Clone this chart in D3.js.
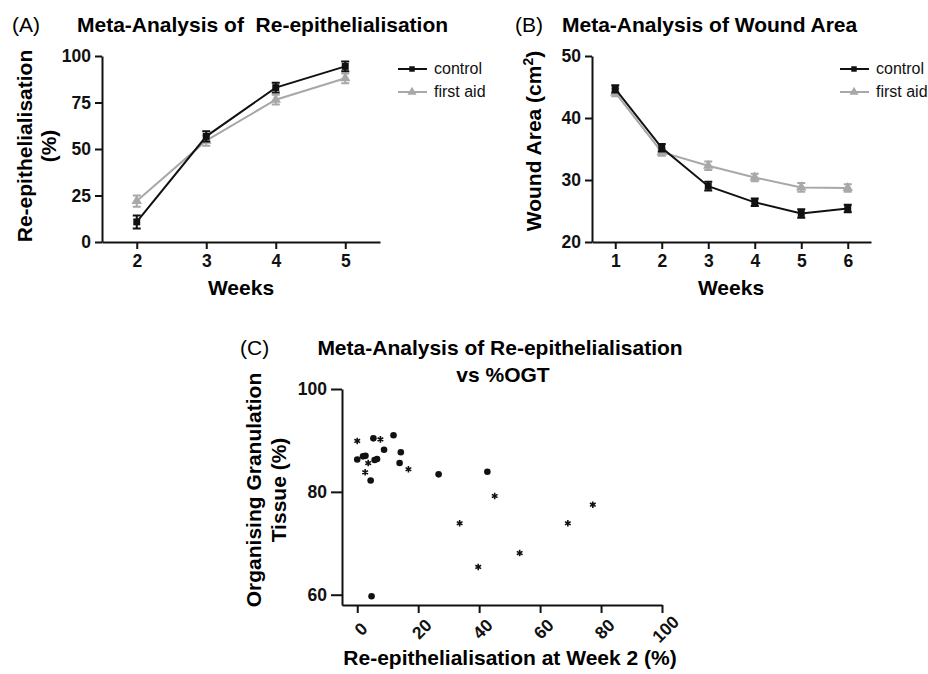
<!DOCTYPE html>
<html>
<head>
<meta charset="utf-8">
<script src="https://cdn.jsdelivr.net/npm/d3@7"></script>
<style>
body { margin: 0; background: #fff; }
text { font-family: "Liberation Sans", Arial, sans-serif; }
</style>
</head>
<body>
<svg width="928" height="674"></svg>
<script>
// panel A data
var weeksA = [2, 3, 4, 5];
var reepControl = [10.8, 56.8, 83.0, 94.4];
var reepControlErr = [3.5, 2.8, 2.6, 2.6];
var reepFirstAid = [22.0, 54.5, 76.5, 88.0];
var reepFirstAidErr = [3.0, 2.8, 2.6, 2.6];
var ticksA = [0, 25, 50, 75, 100];

// panel B data
var weeksB = [1, 2, 3, 4, 5, 6];
var woundControl = [44.7, 35.2, 29.0, 26.4, 24.6, 25.4];
var woundControlErr = [0.6, 0.6, 0.7, 0.6, 0.7, 0.6];
var woundFirstAid = [44.1, 34.5, 32.3, 30.4, 28.8, 28.7];
var woundFirstAidErr = [0.6, 0.6, 0.7, 0.6, 0.7, 0.6];
var ticksB = [20, 30, 40, 50];

// panel C data
var dotX = [0, 1.9, 2.7, 5.3, 5.7, 6.5, 4.4, 8.8, 11.9, 14.3, 13.9, 26.7, 42.7, 4.7];
var dotY = [86.3, 86.9, 87.0, 90.4, 86.2, 86.4, 82.2, 88.2, 91.0, 87.7, 85.6, 83.4, 83.9, 59.7];
var starX = [0, 7.6, 3.6, 2.6, 16.8, 45.1, 33.6, 77.3, 69.1, 53.3, 39.7];
var starY = [89.9, 90.2, 85.6, 83.8, 84.4, 79.2, 73.9, 77.5, 73.9, 68.1, 65.4];
var ticksCx = [0, 20, 40, 60, 80, 100];
var ticksCy = [60, 80, 100];

var grey = '#a8a8a8';
var svg = d3.select('svg');

function styleAxis(g) {
    g.selectAll('path, line').attr('stroke', '#111').attr('stroke-width', 2);
    g.selectAll('text').attr('font-size', 17.5).attr('font-weight', 'bold').attr('fill', '#111');
}

function drawSeries(g, x, y, weeks, vals, errs, color, shape) {
    var line = d3.line()
        .x(function(d, i){ return x(weeks[i]); })
        .y(function(d){ return y(d); });
    g.append('path')
        .attr('d', line(vals))
        .attr('fill', 'none')
        .attr('stroke', color)
        .attr('stroke-width', 2);
    vals.forEach(function(v, i){
        var cx = x(weeks[i]);
        var lo = y(v - errs[i]), hi = y(v + errs[i]);
        g.append('path')
            .attr('d', 'M' + cx + ',' + lo + 'V' + hi +
                'M' + (cx - 4) + ',' + lo + 'H' + (cx + 4) +
                'M' + (cx - 4) + ',' + hi + 'H' + (cx + 4))
            .attr('stroke', color)
            .attr('stroke-width', 2)
            .attr('fill', 'none');
        g.append('path')
            .attr('transform', 'translate(' + cx + ',' + y(v) + ')')
            .attr('d', d3.symbol(shape, 48)())
            .attr('fill', color);
    });
}

function legend(g, lx, ly) {
    [['control', '#111', d3.symbolSquare, 30], ['first aid', grey, d3.symbolTriangle, 36]].forEach(function(d, i){
        var yy = ly + i * 23;
        g.append('line')
            .attr('x1', lx).attr('x2', lx + 29)
            .attr('y1', yy).attr('y2', yy)
            .attr('stroke', d[1]).attr('stroke-width', 2);
        g.append('path')
            .attr('transform', 'translate(' + (lx + 14) + ',' + yy + ')')
            .attr('d', d3.symbol(d[2], d[3])())
            .attr('fill', d[1]);
        g.append('text')
            .attr('x', lx + 36).attr('y', yy + 5)
            .attr('font-size', 16)
            .attr('fill', '#111')
            .text(d[0]);
    });
}

function title(letter, lx, tx, ty, label) {
    svg.append('text')
        .attr('x', lx).attr('y', ty)
        .attr('font-size', 21)
        .text(letter);
    svg.append('text')
        .attr('x', tx).attr('y', ty)
        .attr('font-size', 21)
        .attr('font-weight', 'bold')
        .text(label);
}

// ---------- Panel A ----------
var xA = d3.scaleLinear().domain([1.5, 5.5]).range([102, 380]);
var yA = d3.scaleLinear().domain([0, 100]).range([242, 56]);
var gA = svg.append('g');
gA.append('g')
    .attr('transform', 'translate(0,242)')
    .call(d3.axisBottom(xA).tickValues(weeksA).tickSize(7).tickSizeOuter(0).tickPadding(6).tickFormat(d3.format('d')))
    .call(styleAxis);
gA.append('g')
    .attr('transform', 'translate(102,0)')
    .call(d3.axisLeft(yA).tickValues(ticksA).tickSize(7).tickSizeOuter(0).tickPadding(4))
    .call(styleAxis);
drawSeries(gA, xA, yA, weeksA, reepFirstAid, reepFirstAidErr, grey, d3.symbolTriangle);
drawSeries(gA, xA, yA, weeksA, reepControl, reepControlErr, '#111', d3.symbolSquare);
legend(gA, 398, 69);
title('(A)', 12, 77, 32, 'Meta-Analysis of \u00a0Re-epithelialisation');
gA.append('text')
    .attr('x', 241).attr('y', 295)
    .attr('text-anchor', 'middle').attr('font-size', 21).attr('font-weight', 'bold')
    .text('Weeks');
gA.append('text')
    .attr('transform', 'translate(32,146) rotate(-90)')
    .attr('text-anchor', 'middle').attr('font-size', 21).attr('font-weight', 'bold')
    .text('Re-epithelialisation');
gA.append('text')
    .attr('transform', 'translate(56,146) rotate(-90)')
    .attr('text-anchor', 'middle').attr('font-size', 21).attr('font-weight', 'bold')
    .text('(%)');

// ---------- Panel B ----------
var xB = d3.scaleLinear().domain([0.5, 6.5]).range([592, 871]);
var yB = d3.scaleLinear().domain([20, 50]).range([242, 56]);
var gB = svg.append('g');
gB.append('g')
    .attr('transform', 'translate(0,242)')
    .call(d3.axisBottom(xB).tickValues(weeksB).tickSize(7).tickSizeOuter(0).tickPadding(6).tickFormat(d3.format('d')))
    .call(styleAxis);
gB.append('g')
    .attr('transform', 'translate(592,0)')
    .call(d3.axisLeft(yB).tickValues(ticksB).tickSize(7).tickSizeOuter(0).tickPadding(4))
    .call(styleAxis);
drawSeries(gB, xB, yB, weeksB, woundFirstAid, woundFirstAidErr, grey, d3.symbolTriangle);
drawSeries(gB, xB, yB, weeksB, woundControl, woundControlErr, '#111', d3.symbolSquare);
legend(gB, 840, 69);
title('(B)', 515, 562, 32, 'Meta-Analysis of Wound Area');
gB.append('text')
    .attr('x', 731).attr('y', 295)
    .attr('text-anchor', 'middle').attr('font-size', 21).attr('font-weight', 'bold')
    .text('Weeks');
var yt = gB.append('text')
    .attr('transform', 'translate(541,141) rotate(-90)')
    .attr('text-anchor', 'middle').attr('font-size', 21).attr('font-weight', 'bold');
yt.append('tspan').text('Wound Area (cm');
yt.append('tspan').attr('dy', -8).attr('font-size', 14).text('2');
yt.append('tspan').attr('dy', 8).text(')');

// ---------- Panel C ----------
var xC = d3.scaleLinear().domain([-5, 100]).range([342, 662]);
var yC = d3.scaleLinear().domain([58, 100]).range([605, 389]);
var gC = svg.append('g');
var axC = gC.append('g')
    .attr('transform', 'translate(0,605)')
    .call(d3.axisBottom(xC).tickValues(ticksCx).tickSize(8).tickSizeOuter(0))
    .call(styleAxis);
axC.selectAll('.tick text')
    .attr('y', 0).attr('dy', '0.35em')
    .attr('text-anchor', 'middle')
    .attr('transform', 'translate(3,24) rotate(-45)');
gC.append('g')
    .attr('transform', 'translate(342,0)')
    .call(d3.axisLeft(yC).tickValues(ticksCy).tickSize(11).tickSizeOuter(0).tickPadding(4))
    .call(styleAxis);
gC.selectAll('circle.dot')
    .data(dotX)
    .enter()
    .append('circle')
    .attr('class', 'dot')
    .attr('cx', function(d){ return xC(d); })
    .attr('cy', function(d, i){ return yC(dotY[i]); })
    .attr('r', 3.3)
    .attr('fill', '#111');
gC.selectAll('path.star')
    .data(starX)
    .enter()
    .append('path')
    .attr('class', 'star')
    .attr('transform', function(d, i){ return 'translate(' + xC(d) + ',' + yC(starY[i]) + ')'; })
    .attr('d', d3.symbol(d3.symbolAsterisk, 30)())
    .attr('fill', 'none')
    .attr('stroke', '#111')
    .attr('stroke-width', 1.6);
svg.append('text').attr('x', 240).attr('y', 355).attr('font-size', 21).text('(C)');
svg.append('text')
    .attr('x', 500).attr('y', 355)
    .attr('text-anchor', 'middle').attr('font-size', 21).attr('font-weight', 'bold')
    .text('Meta-Analysis of Re-epithelialisation');
svg.append('text')
    .attr('x', 503).attr('y', 382)
    .attr('text-anchor', 'middle').attr('font-size', 21).attr('font-weight', 'bold')
    .text('vs %OGT');
gC.append('text')
    .attr('x', 510).attr('y', 665)
    .attr('text-anchor', 'middle').attr('font-size', 21).attr('font-weight', 'bold')
    .text('Re-epithelialisation at Week 2 (%)');
gC.append('text')
    .attr('transform', 'translate(261,490) rotate(-90)')
    .attr('text-anchor', 'middle').attr('font-size', 21).attr('font-weight', 'bold')
    .text('Organising Granulation');
gC.append('text')
    .attr('transform', 'translate(286,490) rotate(-90)')
    .attr('text-anchor', 'middle').attr('font-size', 21).attr('font-weight', 'bold')
    .text('Tissue (%)');
</script>
</body>
</html>
